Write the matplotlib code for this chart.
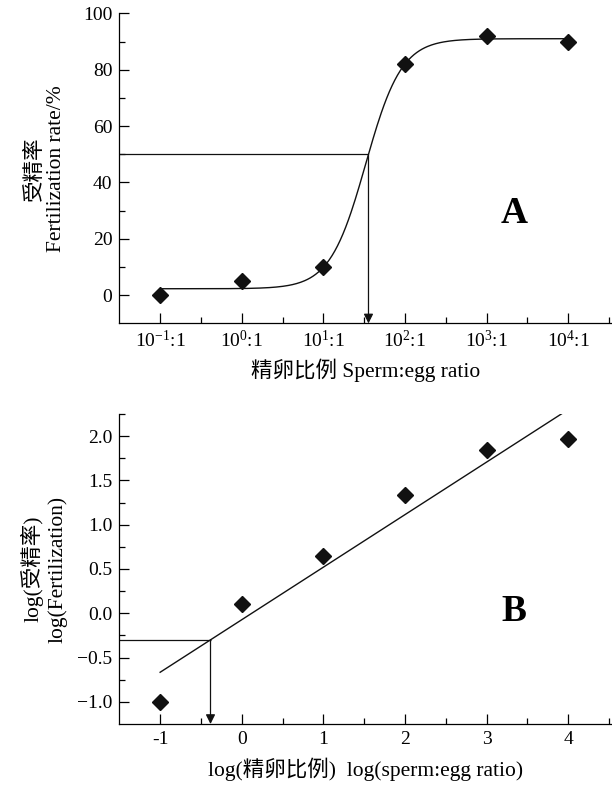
import numpy as np
import matplotlib
matplotlib.use("Agg")
import matplotlib.pyplot as plt
from matplotlib.ticker import FixedLocator, NullFormatter

plt.rcParams['font.family'] = ['Liberation Serif', 'Noto Sans CJK SC']
plt.rcParams['mathtext.fontset'] = 'custom'
plt.rcParams['mathtext.rm'] = 'Liberation Serif'
plt.rcParams['mathtext.it'] = 'Liberation Serif:italic'
plt.rcParams['axes.unicode_minus'] = True

# data
ratio = [0.1, 1, 10, 100, 1000, 10000]
ratio_labels = ['$10^{-1}$:1', '$10^{0}$:1', '$10^{1}$:1', '$10^{2}$:1', '$10^{3}$:1', '$10^{4}$:1']
fert_rate = [0, 5, 10, 82, 92, 90]

log_ratio = [-1, 0, 1, 2, 3, 4]
log_fert = [-1.0, 0.1, 0.65, 1.34, 1.84, 1.97]

# Boltzmann fit shown in panel A (log10 of ratio)
fit_A1, fit_A2, fit_x0, fit_dx = 2.3, 91.0, 1.52, 0.22
# linear fit shown in panel B
lin_slope, lin_icpt = 0.593, -0.073
lin_x = [-1.0, 3.93]
half_rate = 50
log_half = -0.3

fig = plt.figure(figsize=(6.12, 7.85), dpi=100)
axA = fig.add_axes([0.195, 0.588, 0.804, 0.395])
axB = fig.add_axes([0.195, 0.0777, 0.804, 0.395])

for ax in (axA, axB):
    ax.spines['top'].set_visible(False)
    ax.spines['right'].set_visible(False)
    ax.tick_params(which='major', direction='in', length=7, width=0.9, labelsize=14, pad=5)
    ax.tick_params(which='minor', direction='in', length=4, width=0.9)
    ax.tick_params(top=False, right=False)
    for s in ('left', 'bottom'):
        ax.spines[s].set_linewidth(0.9)

# ---- panel A ----
xs = np.linspace(-1, 4, 300)
ys = fit_A2 + (fit_A1 - fit_A2) / (1 + np.exp((xs - fit_x0) / fit_dx))
axA.set_xscale('log')
axA.plot(10 ** xs, ys, color='#111111', lw=1.0)
axA.plot(ratio, fert_rate, 'D', color='#111111', ms=8.5)
axA.set_xlim(10 ** -1.5, 10 ** 4.53)
axA.set_ylim(-10, 100)
axA.set_xticks(ratio)
axA.set_xticklabels(ratio_labels)
axA.xaxis.set_minor_locator(FixedLocator([r * 10 ** 0.5 for r in ratio]))
axA.xaxis.set_minor_formatter(NullFormatter())
axA.set_yticks([0, 20, 40, 60, 80, 100])
axA.yaxis.set_minor_locator(FixedLocator([10, 30, 50, 70, 90]))

x_half = fit_x0 + fit_dx * np.log((fit_A1 - fit_A2) / (half_rate - fit_A2) - 1)
axA.hlines(half_rate, 10 ** -1.5, 10 ** x_half, color='#111111', lw=0.9)
axA.annotate('', xy=(10 ** x_half, -10), xytext=(10 ** x_half, half_rate),
             arrowprops=dict(arrowstyle='-|>', color='#111111', lw=0.9,
                             mutation_scale=14, shrinkA=0, shrinkB=0))
axA.text(0.803, 0.356, 'A', transform=axA.transAxes, fontsize=27,
         fontweight='bold', ha='center', va='center')
axA.set_xlabel('精卵比例 Sperm:egg ratio', fontsize=15.5, labelpad=5)
axA.set_ylabel('受精率\nFertilization rate/%', fontsize=15.5, labelpad=12,
               linespacing=1.2)

# ---- panel B ----
lx = np.array(lin_x)
axB.plot(lx, lin_icpt + lin_slope * lx, color='#111111', lw=1.0)
axB.plot(log_ratio, log_fert, 'D', color='#111111', ms=8.5)
axB.set_xlim(-1.5, 4.53)
axB.set_ylim(-1.25, 2.25)
axB.set_xticks(log_ratio)
axB.set_xticklabels([str(v) for v in log_ratio])
axB.xaxis.set_minor_locator(FixedLocator([-0.5, 0.5, 1.5, 2.5, 3.5, 4.5]))
axB.set_yticks([-1.0, -0.5, 0.0, 0.5, 1.0, 1.5, 2.0])
axB.set_yticklabels(['\u22121.0', '\u22120.5', '0.0', '0.5', '1.0', '1.5', '2.0'])
axB.yaxis.set_minor_locator(FixedLocator([-0.75, -0.25, 0.25, 0.75, 1.25, 1.75, 2.25]))

x_lhalf = (log_half - lin_icpt) / lin_slope
axB.hlines(log_half, -1.5, x_lhalf, color='#111111', lw=0.9)
axB.annotate('', xy=(x_lhalf, -1.25), xytext=(x_lhalf, log_half),
             arrowprops=dict(arrowstyle='-|>', color='#111111', lw=0.9,
                             mutation_scale=14, shrinkA=0, shrinkB=0))
axB.text(0.801, 0.362, 'B', transform=axB.transAxes, fontsize=27,
         fontweight='bold', ha='center', va='center')
axB.set_xlabel('log(精卵比例)  log(sperm:egg ratio)', fontsize=15.5, labelpad=7)
axB.set_ylabel('log(受精率)\nlog(Fertilization)', fontsize=15.5, labelpad=7,
               linespacing=1.25)

fig.savefig('out.png', dpi=100)
